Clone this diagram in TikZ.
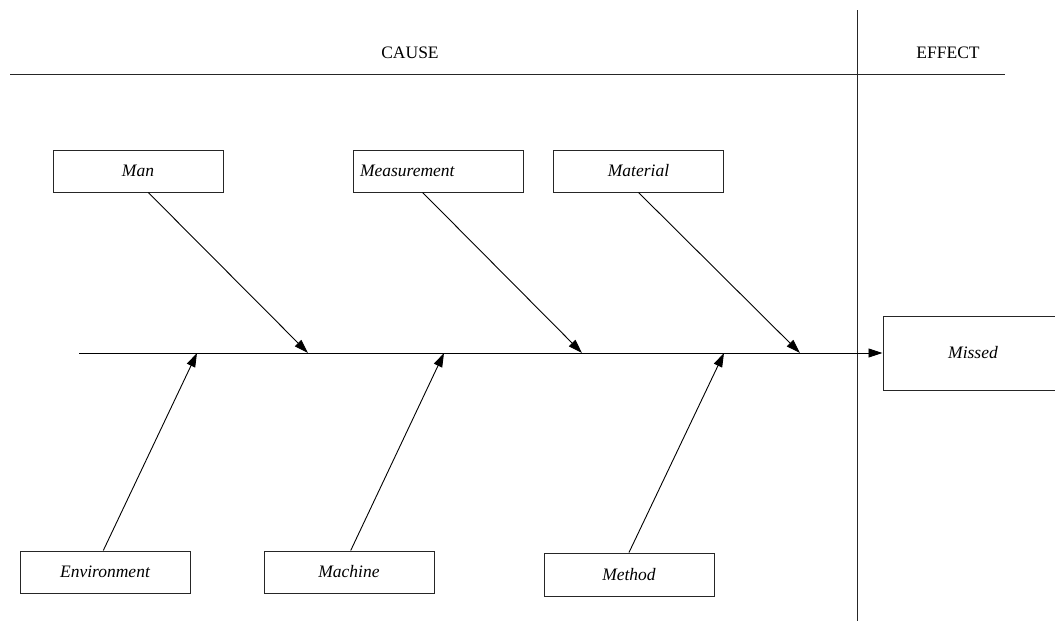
\documentclass[tikz,border=0pt]{standalone}
\usepackage{fontspec}
\setmainfont{Liberation Serif}
\usetikzlibrary{arrows.meta,calc}
\begin{document}
\begin{tikzpicture}[x=1pt,y=-1pt,
  every node/.style={font=\fontsize{17.5}{20}\selectfont},
  causebox/.style={draw=black!85, line width=1pt, minimum width=170pt, minimum height=42pt, inner sep=0pt, font=\fontsize{17.5}{20}\selectfont\itshape},
  bone/.style={draw=black, line width=0.9pt, -{Triangle[length=14pt,width=9pt]}},
  rule/.style={draw=black!85, line width=1pt}]
\useasboundingbox (0,0) rectangle (1055,621);
\clip (0,0) rectangle (1055,621);
% header
\coordinate (tl) at (10,74);
\coordinate (tr) at (1005,74);
\coordinate (vt) at (857,10);
\coordinate (vb) at (857,621);
\draw[rule] (tl) -- (tr);
\draw[rule] (vt) -- (vb);
\node (cause) at (410,53) {CAUSE};
\node (effect) at (948,53) {EFFECT};
% boxes
\node[causebox] (man) at (138,171) {Man};
\node[causebox, text width=156pt, inner xsep=7pt, align=left] (meas) at (438,171) {Measurement};
\node[causebox] (mat) at (638.5,171) {Material};
\node[causebox] (env) at (105,572) {Environment};
\node[causebox] (mach) at (349,572) {Machine};
\node[causebox, minimum height=43pt] (meth) at (629,574.5) {Method};
\node[causebox, minimum width=180pt, minimum height=74pt] (missed) at (973,353) {Missed};
% spine
\coordinate (tail) at (79,353);
\draw[bone] (tail) -- (missed.west);
% bone ends on spine
\coordinate (pman) at (308,353);
\coordinate (pmeas) at (582,353);
\coordinate (pmat) at (800,353);
\coordinate (penv) at (197,353);
\coordinate (pmach) at (444,353);
\coordinate (pmeth) at (724,353);
\draw[bone] ($(man.south west)!0.56!(man.south east)$) -- (pman);
\draw[bone] ($(meas.south west)!0.41!(meas.south east)$) -- (pmeas);
\draw[bone] ($(mat.south west)!0.5!(mat.south east)$) -- (pmat);
\draw[bone] ($(env.north west)!0.49!(env.north east)$) -- (penv);
\draw[bone] ($(mach.north west)!0.51!(mach.north east)$) -- (pmach);
\draw[bone] ($(meth.north west)!0.5!(meth.north east)$) -- (pmeth);
\end{tikzpicture}
\end{document}
